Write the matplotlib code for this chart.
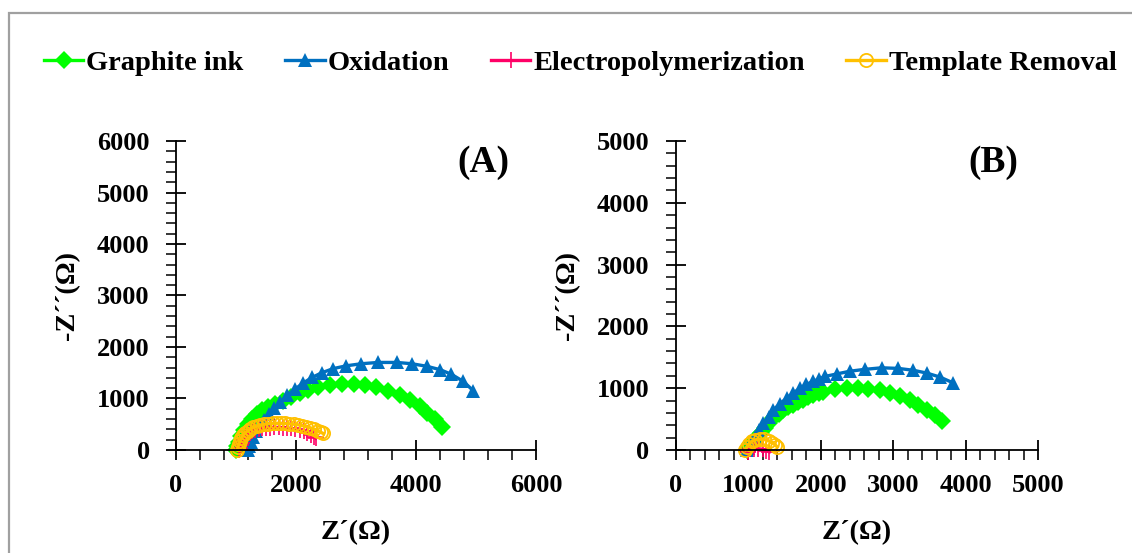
import numpy as np
import matplotlib.pyplot as plt
from matplotlib.patches import Rectangle
from matplotlib.ticker import MultipleLocator

plt.rcParams['font.family'] = ['Liberation Serif', 'DejaVu Serif']
plt.rcParams['font.weight'] = 'bold'

labels = ["Graphite ink", "Oxidation", "Electropolymerization", "Template Removal"]
colors = ["#00FF00", "#0070C0", "#FF0066", "#FFC000"]

# panel A (Z', -Z'') in ohm
a_ink_x = [1000, 1020, 1050, 1090, 1140, 1200, 1270, 1350, 1440, 1540, 1650, 1780, 1920, 2060,
           2200, 2370, 2560, 2760, 2960, 3150, 3340, 3540, 3730, 3900, 4060, 4190, 4320, 4430]
a_ink_y = [0, 70, 160, 270, 390, 500, 600, 690, 770, 840, 900, 960, 1030, 1100,
           1160, 1220, 1265, 1285, 1285, 1260, 1215, 1150, 1065, 970, 855, 725, 595, 445]
a_ox_x = [1200, 1220, 1250, 1290, 1340, 1400, 1470, 1550, 1640, 1740, 1850, 1980, 2120, 2270,
          2430, 2620, 2840, 3090, 3370, 3680, 3930, 4180, 4400, 4590, 4790, 4955]
a_ox_y = [0, 70, 160, 260, 370, 480, 590, 700, 810, 930, 1060, 1180, 1300, 1410,
          1500, 1580, 1635, 1675, 1700, 1700, 1675, 1625, 1560, 1470, 1330, 1150]
a_ep_x = [1050, 1060, 1075, 1095, 1120, 1150, 1185, 1225, 1270, 1320, 1375, 1435, 1500, 1570,
          1640, 1710, 1780, 1850, 1920, 1990, 2060, 2130, 2190, 2250, 2300, 2330]
a_ep_y = [0, 40, 90, 140, 190, 240, 285, 325, 360, 385, 405, 420, 430, 435,
          438, 438, 435, 428, 418, 405, 385, 360, 330, 295, 260, 230]
a_tr_x = [1020, 1030, 1045, 1065, 1090, 1120, 1155, 1195, 1240, 1290, 1345, 1405, 1470, 1540,
          1610, 1680, 1750, 1820, 1890, 1960, 2030, 2100, 2170, 2240, 2300, 2360, 2410, 2455]
a_tr_y = [0, 50, 110, 170, 230, 285, 335, 375, 410, 440, 465, 485, 500, 510,
          515, 518, 518, 515, 508, 500, 490, 475, 455, 430, 405, 375, 345, 320]

# panel B
b_ink_x = [980, 1000, 1050, 1113, 1170, 1228, 1290, 1347, 1420, 1484, 1550, 1622, 1690, 1760,
           1830, 1898, 1970, 2037, 2197, 2358, 2519, 2657, 2818, 2956, 3094, 3232, 3347, 3462,
           3577, 3669]
b_ink_y = [0, 30, 110, 190, 270, 350, 440, 515, 590, 650, 690, 730, 770, 810,
           850, 890, 920, 945, 985, 1010, 1005, 985, 970, 930, 875, 810, 730, 650,
           565, 475]
b_ox_x = [980, 1000, 1040, 1090, 1150, 1209, 1280, 1347, 1440, 1531, 1620, 1715, 1800, 1898,
          1980, 2060, 2220, 2404, 2611, 2841, 3071, 3278, 3462, 3646, 3830]
b_ox_y = [0, 40, 120, 216, 320, 433, 540, 650, 750, 840, 920, 1000, 1060, 1110,
          1150, 1190, 1230, 1275, 1305, 1330, 1320, 1290, 1245, 1180, 1085]
b_ep_x = [990, 1000, 1030, 1080, 1140, 1200, 1250, 1290]
b_ep_y = [-30, -10, 10, 20, 20, 10, -10, -30]
b_tr_x = [960, 980, 1010, 1050, 1100, 1160, 1220, 1280, 1330, 1370, 1400]
b_tr_y = [0, 50, 100, 140, 165, 175, 170, 150, 120, 85, 50]

panels = [
    ([a_ink_x, a_ox_x, a_ep_x, a_tr_x], [a_ink_y, a_ox_y, a_ep_y, a_tr_y], 6000, 2000, 400, 1000, 200, "(A)"),
    ([b_ink_x, b_ox_x, b_ep_x, b_tr_x], [b_ink_y, b_ox_y, b_ep_y, b_tr_y], 5000, 1000, 200, 1000, 200, "(B)"),
]
tag_x = [0.855, 0.876]

styles = [
    dict(marker="D", markersize=9, markeredgewidth=0),
    dict(marker="^", markersize=10, markeredgewidth=0),
    dict(marker="+", markersize=11, markeredgewidth=1.2),
    dict(marker="o", markersize=9.5, markerfacecolor="none", markeredgewidth=1.3),
]

fig = plt.figure(figsize=(11.32, 5.53), dpi=100)
boxes = [[0.1555, 0.1863, 0.318, 0.5587], [0.597, 0.1863, 0.320, 0.5587]]

handles = []
for k, (xs, ys, lim, xmaj, xmin, ymaj, ymin, tag) in enumerate(panels):
    ax = fig.add_axes(boxes[k])
    for i in range(4):
        h, = ax.plot(xs[i], ys[i], color=colors[i], lw=2.4, clip_on=False,
                     markeredgecolor=colors[i], label=labels[i], **styles[i])
        if k == 0:
            handles.append(h)
    ax.set_xlim(0, lim)
    ax.set_ylim(0, lim)
    ax.xaxis.set_major_locator(MultipleLocator(xmaj))
    ax.xaxis.set_minor_locator(MultipleLocator(xmin))
    ax.yaxis.set_major_locator(MultipleLocator(ymaj))
    ax.yaxis.set_minor_locator(MultipleLocator(ymin))
    ax.spines['top'].set_visible(False)
    ax.spines['right'].set_visible(False)
    for s in ['left', 'bottom']:
        ax.spines[s].set_linewidth(1.3)
    ax.tick_params(which='major', direction='inout', length=14, width=1.3, labelsize=19)
    ax.tick_params(axis='y', which='major', pad=12)
    ax.tick_params(axis='x', which='major', pad=10)
    ax.tick_params(which='minor', direction='out', length=7, width=1.1)
    for t in ax.get_xticklabels() + ax.get_yticklabels():
        t.set_fontweight('bold')
    ax.set_xlabel("Z´(Ω)", fontsize=20.5, fontweight='bold', labelpad=17)
    ax.set_ylabel("-Z´´(Ω)", fontsize=20.5, fontweight='bold', labelpad=12)
    ax.text(tag_x[k], 0.93, tag, transform=ax.transAxes, fontsize=27, fontweight='bold',
            ha='center', va='center')

fig.legend(handles=handles, loc='center', bbox_to_anchor=(0.5125, 0.886), ncol=4, frameon=False,
           prop=dict(size=20.5, weight='bold'), handlelength=1.4, handletextpad=0.1, columnspacing=1.45)

fig.patches.append(Rectangle((0.008, -0.1), 1.2, 1.0765, transform=fig.transFigure,
                             fill=False, edgecolor="#A0A0A0", linewidth=1.6))

fig.savefig("out.png", dpi=100)
